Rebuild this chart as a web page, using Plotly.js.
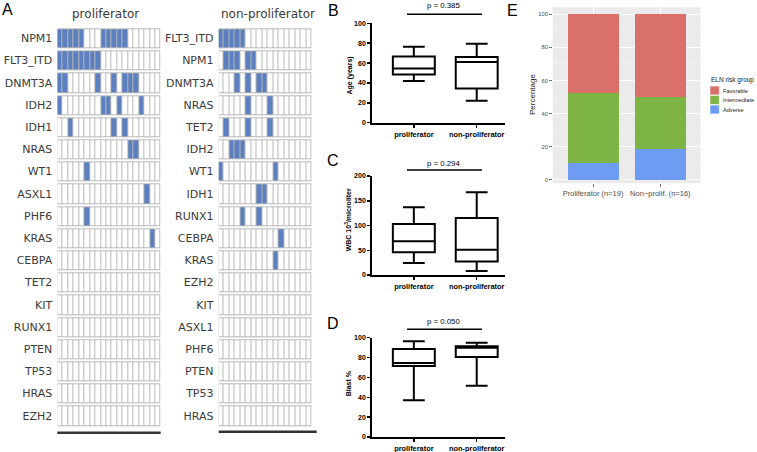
<!DOCTYPE html>
<html><head><meta charset="utf-8">
<script src="https://cdn.plot.ly/plotly-3.0.1.min.js"></script>
<style>html,body{margin:0;padding:0;background:#fff}#chart{width:757px;height:452px}</style>
</head><body><div id="chart"></div>
<script>
// ---------- DATA ----------
const prolifGenes = ['NPM1','FLT3_ITD','DNMT3A','IDH2','IDH1','NRAS','WT1','ASXL1','PHF6','KRAS','CEBPA','TET2','KIT','RUNX1','PTEN','TP53','HRAS','EZH2'];
const prolifMutated = [[1,2,3,4,5,9,10,11,12,13],[1,2,3,4,5,6,7,8],[1,2,8,11,13,14,15],[1,9,10,12,16],[3,11,13],[14,15],[6],[17],[6],[18],[],[],[],[],[],[],[],[]];
const prolifPatients = 19;
const nonGenes = ['FLT3_ITD','NPM1','DNMT3A','NRAS','TET2','IDH2','WT1','IDH1','RUNX1','CEBPA','KRAS','EZH2','KIT','ASXL1','PHF6','PTEN','TP53','HRAS'];
const nonMutated = [[1,2,3,4,5],[2,3,4,6,7],[4,6,8,9],[6,10],[2,6,10],[3,4,5],[1,11],[8,9],[5,8],[12],[11],[],[],[],[],[],[],[]];
const nonPatients = 17;

const groups = ['proliferator','non-proliferator'];
// [lower whisker, q1, median, q3, upper whisker]
const ageProlif = [42, 48.5, 54.5, 66.5, 76.5];
const ageNon    = [22, 34.5, 61, 66, 79.5];
const wbcProlif = [24, 46, 68, 103, 137];
const wbcNon    = [8, 27.5, 51, 115, 167];
const blastProlif = [37, 71.5, 74.5, 88.5, 96.5];
const blastNon    = [51.5, 80.5, 90, 91.5, 95];
const pValues = ['p = 0.385','p = 0.294','p = 0.050'];

const elnCats = ['Proliferator (n=19)','Non\u2212prolif. (n=16)'];
const elnAdverse = [10.5, 18.8];
const elnIntermediate = [42.1, 31.2];
const elnFavorable = [47.4, 50.0];
const elnNames = ['Favorable','Intermediate','Adverse'];
const elnColors = ['#d9706a','#7db444','#6e9cf2'];

// ---------- helpers ----------
const W = 757, H = 452;
const px = x => x / W;
const py = y => 1 - y / H;
const BLUE = '#5b7fbf';

function matrix(genes, mutated, n) {
  return genes.map((g, i) => Array.from({length: n}, (_, j) => mutated[i].includes(j + 1) ? 1 : 0));
}
function cols(n) { return Array.from({length: n}, (_, j) => j + 1); }

const traces = [];
function gridTraces(genes, mutated, n, xa, ya) {
  const xs = cols(n);
  traces.push({type:'heatmap', x: xs, y: genes, z: genes.map(() => xs.map(() => 1)),
    colorscale: [[0,'#b8b8b8'],[1,'#b8b8b8']], showscale:false, ygap:2, xaxis:xa, yaxis:ya, hoverinfo:'skip'});
  traces.push({type:'heatmap', x: xs, y: genes, z: matrix(genes, mutated, n), zmin:0, zmax:1,
    colorscale: [[0,'#ffffff'],[1,BLUE]], showscale:false, xgap:1, ygap:4, xaxis:xa, yaxis:ya, hoverinfo:'skip'});
}
gridTraces(prolifGenes, prolifMutated, prolifPatients, 'x', 'y');
gridTraces(nonGenes, nonMutated, nonPatients, 'x2', 'y2');

function boxTrace(a, b, xa, ya) {
  const s = [a, b];
  return {type:'box', x: groups, lowerfence: s.map(v=>v[0]), q1: s.map(v=>v[1]), median: s.map(v=>v[2]),
    q3: s.map(v=>v[3]), upperfence: s.map(v=>v[4]), width: 0.667, whiskerwidth: 0.52,
    line:{color:'#000', width:2}, fillcolor:'#fff', boxpoints:false, xaxis:xa, yaxis:ya, hoverinfo:'skip'};
}
traces.push(boxTrace(ageProlif, ageNon, 'x3', 'y3'));
traces.push(boxTrace(wbcProlif, wbcNon, 'x4', 'y4'));
traces.push(boxTrace(blastProlif, blastNon, 'x5', 'y5'));

const elnVals = [elnFavorable, elnIntermediate, elnAdverse];
[2,1,0].forEach(k => traces.push({type:'bar', x: elnCats, y: elnVals[k], name: elnNames[k],
  marker:{color: elnColors[k], line:{width:0}}, width:0.76, xaxis:'x6', yaxis:'y6', hoverinfo:'skip'}));

// ---------- layout ----------
const gridY = [27.3, 426.9];
function gridX(x0, x1, n, ya) {
  return {domain:[px(x0), px(x1)], range:[0.5, n + 0.5], showgrid:false, zeroline:false, showline:false,
    showticklabels:false, ticks:'', anchor: ya, fixedrange:true};
}
function gridYax(xa) {
  return {domain:[py(gridY[1]), py(gridY[0])], type:'category', autorange:'reversed', showgrid:false,
    zeroline:false, showline:false, ticks:'', ticklabelstandoff:4, anchor:xa,
    tickfont:{family:'DejaVu Sans', size:11, color:'#3a3a3a'}};
}
const boldFont = {family:'Liberation Sans, Arial', size:7, color:'#000', weight:700};
function boxX(ya) {
  return {domain:[px(371.7), px(505)], type:'category', range:[-0.67, 1.45], showline:true, linewidth:2,
    linecolor:'#000', ticks:'outside', ticklen:3, tickwidth:1.5, tickcolor:'#000', showgrid:false, zeroline:false,
    tickfont:{family:'Liberation Sans, Arial', size:7.4, color:'#000', weight:700}, anchor: ya};
}
function boxY(y0, y1, max, dtick, xa) {
  return {domain:[py(y1), py(y0)], range:[0, max], dtick: dtick, tick0:0, showline:true, linewidth:2,
    linecolor:'#000', ticks:'outside', ticklen:2.5, tickwidth:1.5, tickcolor:'#000', showgrid:false,
    zeroline:false, tickfont: boldFont, anchor: xa};
}

const layout = {
  width: W, height: H, margin:{l:0,r:0,t:0,b:0}, paper_bgcolor:'#fff', plot_bgcolor:'rgba(0,0,0,0)',
  showlegend:false, hovermode:false, barmode:'stack',
  xaxis: gridX(57.3, 160.7, prolifPatients, 'y'), yaxis: gridYax('x'),
  xaxis2: gridX(218.5, 311.7, nonPatients, 'y2'), yaxis2: gridYax('x2'),
  xaxis3: boxX('y3'), yaxis3: boxY(23.3, 122.7, 100, 20, 'x3'),
  xaxis4: boxX('y4'), yaxis4: boxY(176, 275, 200, 50, 'x4'),
  xaxis5: boxX('y5'), yaxis5: boxY(337.7, 437, 100, 20, 'x5'),
  xaxis6: {domain:[px(552.7), px(700.7)], type:'category', range:[-0.6, 1.6], showgrid:true, gridcolor:'#fff',
    gridwidth:1, zeroline:false, showline:false, ticks:'outside', ticklen:2.5, tickwidth:0.7, tickcolor:'#333',
    tickfont:{family:'Liberation Sans, Arial', size:7.5, color:'#4d4d4d'}, anchor:'y6'},
  yaxis6: {domain:[py(183.3), py(7.3)], range:[-2, 104.2], dtick:20, tick0:0, showgrid:true, gridcolor:'#fff',
    gridwidth:1, zeroline:false, showline:false, ticks:'outside', ticklen:2.5, tickwidth:0.7, tickcolor:'#333',
    minor:{dtick:20, tick0:10, showgrid:true, gridcolor:'#f6f6f6', gridwidth:0.5, ticks:''},
    tickfont:{family:'Liberation Sans, Arial', size:5.8, color:'#4d4d4d'}, anchor:'x6'},
  shapes: [], annotations: []
};

// ggplot panel background
layout.shapes.push({type:'rect', xref:'paper', yref:'paper', x0:px(552.7), x1:px(700.7), y0:py(183.3), y1:py(7.3),
  fillcolor:'#ebebeb', line:{width:0}, layer:'below'});
// black bars under the grids
layout.shapes.push({type:'line', xref:'paper', yref:'paper', x0:px(57.3), x1:px(160.7), y0:py(432.7), y1:py(432.7), line:{color:'#333', width:2.5}});
layout.shapes.push({type:'line', xref:'paper', yref:'paper', x0:px(218.7), x1:px(316.7), y0:py(431.8), y1:py(431.8), line:{color:'#333', width:2.5}});
// p-value bars
[[14.3, 5.6], [170, 163.3], [329.3, 321.7]].forEach((p, i) => {
  layout.shapes.push({type:'line', xref:'paper', yref:'paper', x0:px(407), x1:px(482), y0:py(p[0]), y1:py(p[0]), line:{color:'#000', width:1.5}});
  layout.annotations.push({xref:'paper', yref:'paper', x:px(443.5), y:py(p[1]), text:pValues[i], showarrow:false,
    xanchor:'center', yanchor:'middle', font:{family:'Liberation Sans, Arial', size:7.8, color:'#000'}});
});

function ann(x, y, text, font, extra) {
  layout.annotations.push(Object.assign({xref:'paper', yref:'paper', x:px(x), y:py(y), text:text, showarrow:false,
    xanchor:'center', yanchor:'middle', font:font}, extra || {}));
}
const letterFont = {family:'Liberation Sans, Arial', size:16, color:'#000'};
ann(7.5, 9.5, 'A', letterFont); ann(333, 10.5, 'B', letterFont); ann(332.5, 160.5, 'C', letterFont);
ann(332.5, 323.5, 'D', letterFont); ann(512.5, 10.5, 'E', letterFont);
const titleFont = {family:'DejaVu Sans', size:12, color:'#3a3a3a'};
ann(105.5, 14.5, 'proliferator', titleFont); ann(267.5, 13.5, 'non-proliferator', titleFont);
ann(349, 75.5, 'Age (years)', boldFont, {textangle:-90});
ann(348.3, 220, 'WBC 10<sup>3</sup>/microliter', boldFont, {textangle:-90});
ann(348.3, 383, 'Blast %', boldFont, {textangle:-90});
ann(532, 95, 'Percentage', {family:'Liberation Sans, Arial', size:8, color:'#222'}, {textangle:-90});
// ELN legend
ann(708.5, 80, 'ELN risk group', {family:'Liberation Sans, Arial', size:6.5, color:'#222'}, {xanchor:'left'});
elnNames.forEach((nm, k) => {
  const yc = 90.5 + k * 9.5;
  layout.shapes.push({type:'rect', xref:'paper', yref:'paper', x0:px(710), x1:px(719.3), y0:py(yc + 4.4), y1:py(yc - 4.4),
    fillcolor: elnColors[k], line:{width:0.5, color:'#fff'}});
  ann(721, yc, nm, {family:'Liberation Sans, Arial', size:5.6, color:'#222'}, {xanchor:'left'});
});

Plotly.newPlot('chart', traces, layout, {staticPlot:true, displayModeBar:false});
</script></body></html>
